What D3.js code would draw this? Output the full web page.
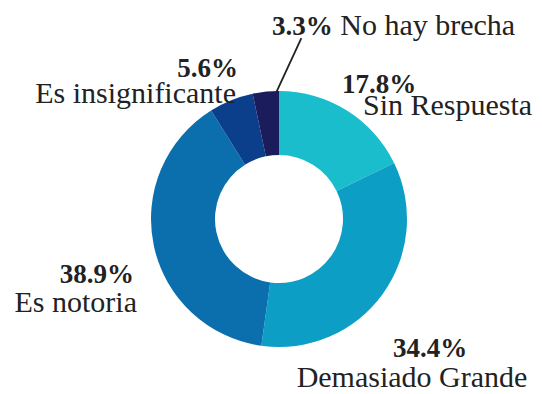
<!DOCTYPE html>
<html>
<head>
<meta charset="utf-8">
<script src="https://cdn.jsdelivr.net/npm/d3@7"></script>
</head>
<body style="margin:0;background:#fff">
<svg id="donut" width="542" height="394"></svg>
<script>
// Survey answers, in clockwise order from 12 o'clock
const categories = ["Sin Respuesta", "Demasiado Grande", "Es notoria", "Es insignificante", "No hay brecha"];
const values = [17.8, 34.4, 38.9, 5.6, 3.3];
const colors = ["#19bdcb", "#0d9ec6", "#0b6fae", "#0b3f8b", "#1b1c5b"];

const cx = 279, cy = 219;
const outerR = 128, innerR = 64;
const TEXT_COLOR = "#222";
const FONT = "Liberation Serif";

const svg = d3.select("#donut");

const data = categories.map((c, i) => ({ label: c, value: values[i], color: colors[i] }));

const pie = d3.pie().value(d => d.value).sort(null);
const arc = d3.arc().innerRadius(innerR).outerRadius(outerR);
const arcs = pie(data);

svg.selectAll("path")
  .data(arcs)
  .join("path")
  .attr("transform", `translate(${cx},${cy})`)
  .attr("d", arc)
  .attr("fill", d => d.data.color);

// Label placement per category (offsets relative to chart centre)
const labelLayout = {
  "Sin Respuesta":     { pct: [63, -126, "start"], name: [84, -104, "start"] },
  "Demasiado Grande":  { pct: [151, 138, "middle"], name: [133, 168, "middle"] },
  "Es notoria":        { pct: [-145, 64, "end"], name: [-142, 93, "end"] },
  "Es insignificante": { pct: [-41, -142, "end"], name: [-43, -116, "end"] }
};

const PCT_SIZE = 27, NAME_SIZE = 30;
const fmt = v => v.toFixed(1) + "%";

// Flatten every label into one list so they can be drawn with a single join
const labels = [];
arcs.forEach(a => {
  const d = a.data;
  const L = labelLayout[d.label];
  if (L) {
    labels.push({ x: L.pct[0], y: L.pct[1], anchor: L.pct[2], size: PCT_SIZE, bold: true, str: fmt(d.value) });
    labels.push({ x: L.name[0], y: L.name[1], anchor: L.name[2], size: NAME_SIZE, bold: false, str: d.label });
  }
});

svg.selectAll("text")
  .data(labels)
  .join("text")
  .attr("x", d => cx + d.x).attr("y", d => cy + d.y)
  .attr("text-anchor", d => d.anchor)
  .attr("font-family", FONT)
  .style("font-family", FONT)
  .style("font-size", d => d.size + "px")
  .style("font-weight", d => d.bold ? "bold" : "normal")
  .attr("fill", TEXT_COLOR)
  .text(d => d.str);

// Thin slice: leader line from its outer edge up to a one-line label
const thin = arcs.find(a => !labelLayout[a.data.label]);
const ang = thin.startAngle + 0.9 * (thin.endAngle - thin.startAngle);
const p0 = [cx + Math.sin(ang) * (outerR - 1), cy - Math.cos(ang) * (outerR - 1)];
const p1 = [p0[0] + 25, p0[1] - 54];
svg.append("line")
  .attr("x1", p0[0]).attr("y1", p0[1])
  .attr("x2", p1[0]).attr("y2", p1[1])
  .attr("stroke", TEXT_COLOR).attr("stroke-width", 1.8);

const t = svg.append("text")
  .attr("x", cx - 7).attr("y", cy - 184)
  .attr("font-family", FONT)
  .style("font-family", FONT)
  .style("font-size", NAME_SIZE + "px")
  .attr("fill", TEXT_COLOR);
t.append("tspan").style("font-weight", "bold").style("font-size", PCT_SIZE + "px").text(fmt(thin.data.value));
t.append("tspan").text(" " + thin.data.label);
</script>
</body>
</html>
